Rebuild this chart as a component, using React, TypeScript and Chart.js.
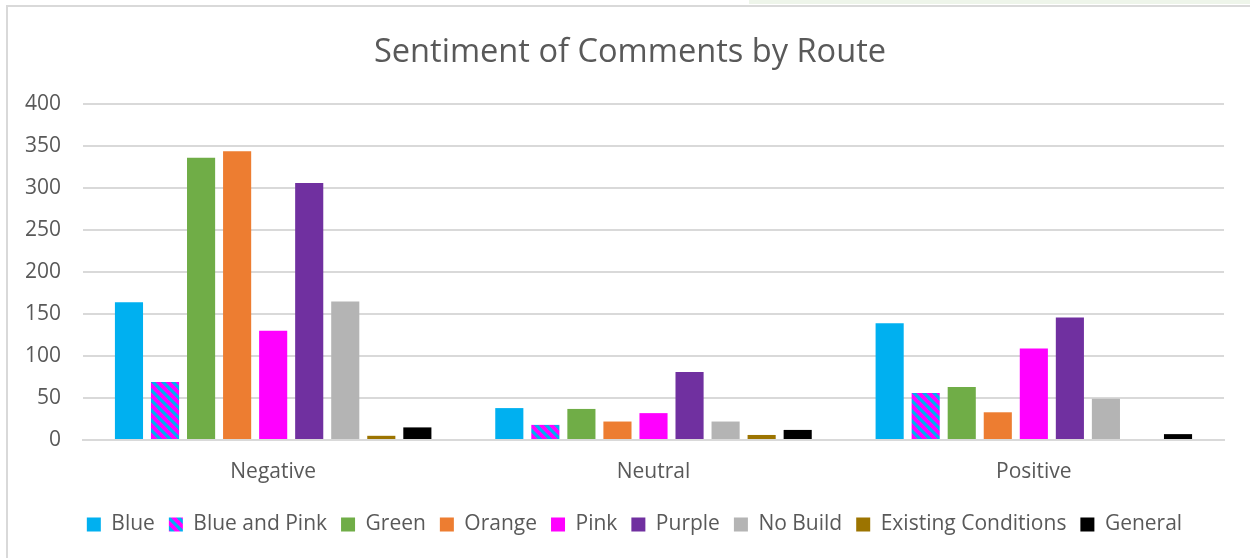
import React, { useEffect, useRef } from "react";
import { Chart, registerables } from "chart.js";

Chart.register(...registerables);

const categories = ["Negative", "Neutral", "Positive"];
const seriesNames = ["Blue", "Blue and Pink", "Green", "Orange", "Pink", "Purple", "No Build", "Existing Conditions", "General"];
const blueValues = [164, 38, 139];
const blueAndPinkValues = [69, 18, 56];
const greenValues = [336, 37, 63];
const orangeValues = [344, 22, 33];
const pinkValues = [130, 32, 109];
const purpleValues = [306, 81, 146];
const noBuildValues = [165, 22, 49];
const existingValues = [5, 6, 0];
const generalValues = [15, 12, 7];
const yTicks = [0, 50, 100, 150, 200, 250, 300, 350, 400];
const titleText = "Sentiment of Comments by Route";

const colors = ["#00B0F0", "stripe", "#70AD47", "#ED7D31", "#FF00FF", "#7030A0", "#B4B4B4", "#9C7400", "#000000"];

function makeStripe(): CanvasPattern | string {
  const s = 10;
  const c = document.createElement("canvas");
  c.width = s;
  c.height = s;
  const ctx = c.getContext("2d");
  if (!ctx) return "#FF00FF";
  ctx.fillStyle = "#FF00FF";
  ctx.fillRect(0, 0, s, s);
  ctx.strokeStyle = "#00B0F0";
  ctx.lineWidth = 3.2;
  for (const o of [-s, 0, s]) {
    ctx.beginPath();
    ctx.moveTo(o - 1, -1);
    ctx.lineTo(o + s + 1, s + 1);
    ctx.stroke();
  }
  const p = ctx.createPattern(c, "repeat");
  return p || "#FF00FF";
}

const boxShift = {
  id: "boxShift",
  afterLayout(chart: any) {
    if (chart.legend) {
      chart.legend.left += 18.5;
      chart.legend.right += 18.5;
    }
    if (chart.titleBlock) {
      chart.titleBlock.left += 14;
      chart.titleBlock.right += 14;
    }
  },
};

export default function App() {
  const ref = useRef<HTMLCanvasElement | null>(null);
  useEffect(() => {
    if (!ref.current) return;
    const stripe = makeStripe();
    const values = [blueValues, blueAndPinkValues, greenValues, orangeValues, pinkValues, purpleValues, noBuildValues, existingValues, generalValues];
    const datasets = seriesNames.map((name, i) => ({
      label: name,
      data: values[i],
      backgroundColor: colors[i] === "stripe" ? stripe : colors[i],
      borderWidth: 0,
      categoryPercentage: 0.853,
      barPercentage: 0.78,
    }));
    const font = "'Open Sans', 'DejaVu Sans', sans-serif";
    const chart = new Chart(ref.current, {
      type: "bar",
      data: { labels: categories, datasets: datasets as any },
      plugins: [boxShift],
      options: {
        animation: false,
        responsive: false,
        maintainAspectRatio: false,
        layout: { padding: { left: 0, right: 26, top: 0, bottom: 13 } },
        plugins: {
          title: {
            display: true,
            text: titleText,
            color: "#595959",
            font: { family: font, size: 32.6, weight: "normal" },
            padding: { top: 26, bottom: 32 },
          },
          legend: {
            position: "bottom",
            labels: {
              color: "#595959",
              font: { family: font, size: 21 },
              boxWidth: 14,
              boxHeight: 14,
              padding: 14,
            },
          },
          tooltip: { enabled: false },
        },
        scales: {
          x: {
            grid: { display: false, drawTicks: false },
            border: { color: "#D9D9D9", width: 2 },
            ticks: { color: "#595959", font: { family: font, size: 21 }, padding: 19 },
            afterFit: (scale: any) => {
              scale.height = 60;
            },
          },
          y: {
            min: 0,
            max: 400,
            afterBuildTicks: (scale: any) => {
              scale.ticks = yTicks.map((v) => ({ value: v }));
            },
            afterFit: (scale: any) => {
              scale.width = 75;
            },
            grid: { color: "#D9D9D9", lineWidth: 2, drawTicks: false },
            border: { display: false },
            ticks: { color: "#595959", font: { family: font, size: 21 }, padding: 22 },
          },
        },
      },
    });
    return () => chart.destroy();
  }, []);
  return (
    <div style={{ position: "fixed", left: 0, top: 0, width: 1250, height: 558, background: "#fff", overflow: "hidden" }}>
      <div style={{ position: "absolute", left: 749, top: 0, width: 501, height: 4, background: "#EEF5EA" }} />
      <div style={{ position: "absolute", left: 6, top: 5, width: 1260, height: 570, borderLeft: "2px solid #D9D9D9", borderTop: "2px solid #D9D9D9", boxSizing: "border-box" }} />
      <canvas ref={ref} width={1242} height={551} style={{ position: "absolute", left: 8, top: 7, width: 1242, height: 551 }} />
    </div>
  );
}
